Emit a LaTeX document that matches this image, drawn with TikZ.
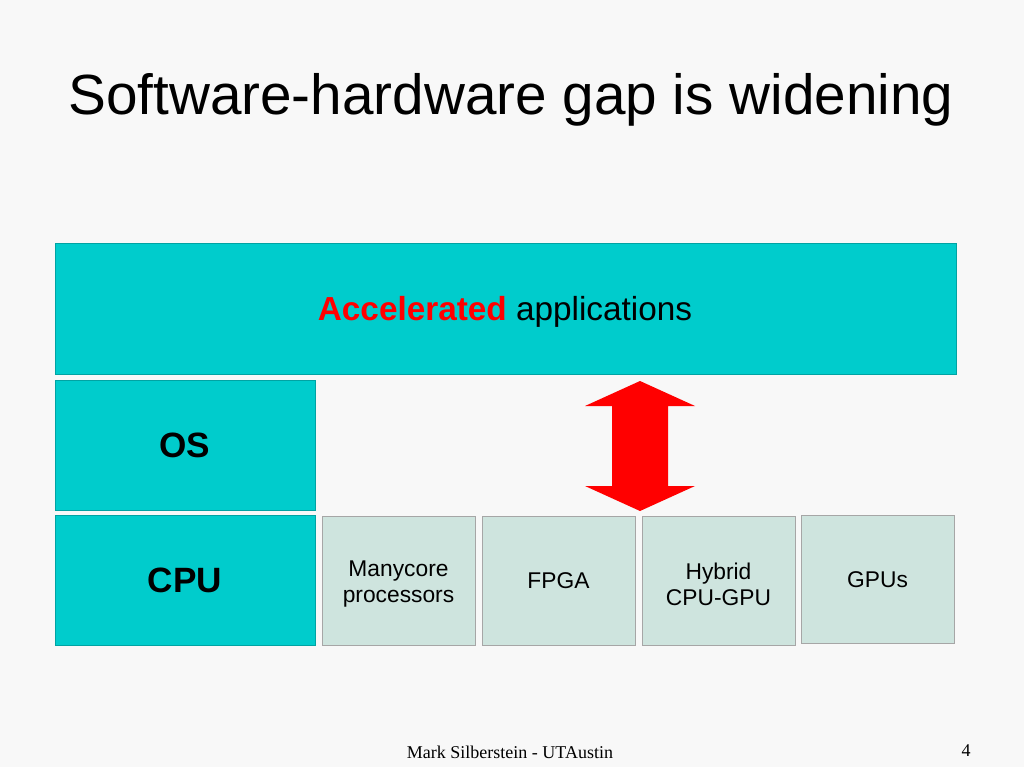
\documentclass[tikz,border=0pt]{standalone}
\usepackage{fontspec}
\setmainfont{Liberation Sans}
\newfontfamily\footfont{Liberation Serif}
\usetikzlibrary{positioning}
\definecolor{teal}{RGB}{0,204,204}
\definecolor{pale}{RGB}{206,228,222}
\definecolor{bg}{RGB}{248,248,248}
\tikzset{
  layer/.style={fill=teal, draw=teal!80!black, line width=0.3pt, inner sep=0pt},
  chip/.style={fill=pale, draw=gray!70, line width=0.4pt, inner sep=0pt, minimum width=153*0.025cm, minimum height=129*0.025cm},
  chiptext/.style={align=center, inner sep=0pt, font=\fontsize{16.2}{18.5}\selectfont},
}
\begin{document}
\begin{tikzpicture}[x=0.025cm,y=-0.025cm]
            \fill[bg] (0,0) rectangle (1024,767);
            \useasboundingbox (0,0) rectangle (1024,767);
            \node[anchor=base west, inner sep=0pt, font=\fontsize{40.3}{44}\selectfont] (title) at (68,115) {Software-hardware gap is widening};
            % layers
            \draw[layer] (55,243) rectangle (956,374);
            \node (app) at (505,312) {\fontsize{23.7}{28}\selectfont\textbf{\textcolor{red}{Accelerated}} applications};
            \draw[layer] (55,380) rectangle (315,510);
            \node[font=\fontsize{25}{30}\selectfont\bfseries] (os) at (185,445) {OS};
            \draw[layer] (55,515) rectangle (315,645);
            \node[font=\fontsize{25}{30}\selectfont\bfseries] (cpu) at (185,580) {CPU};
            % accelerators
            \node[chip] (many) at (398.5,580.5) {};
            \node[chip] (fpga) at (558.5,580.5) {};
            \node[chip] (hyb) at (718.5,580.5) {};
            \node[chip, minimum height=128*0.025cm] (gpu) at (877.5,579) {};
            \node[chiptext] (manyt) at (398.5,584) {Manycore\\processors};
            \node[chiptext] (fpgat) at (558.5,581) {FPGA};
            \node[chiptext] (hybt) at (718.5,584) {Hybrid\\CPU-GPU};
            \node[chiptext] (gput) at (877.5,580) {GPUs};
            % gap arrow
            \fill[red] (640,381) -- (695,406) -- (668,406) -- (668,486) -- (695,486) -- (640,511)
              -- (585,486) -- (612,486) -- (612,406) -- (585,406) -- cycle;
            \node[font=\footfont\fontsize{12.8}{15}\selectfont] (foot) at (510,752) {Mark Silberstein - UT\kern-1pt Austin};
            \node[font=\footfont\fontsize{12.8}{15}\selectfont] (page) at (966,751) {4};
\end{tikzpicture}
\end{document}
